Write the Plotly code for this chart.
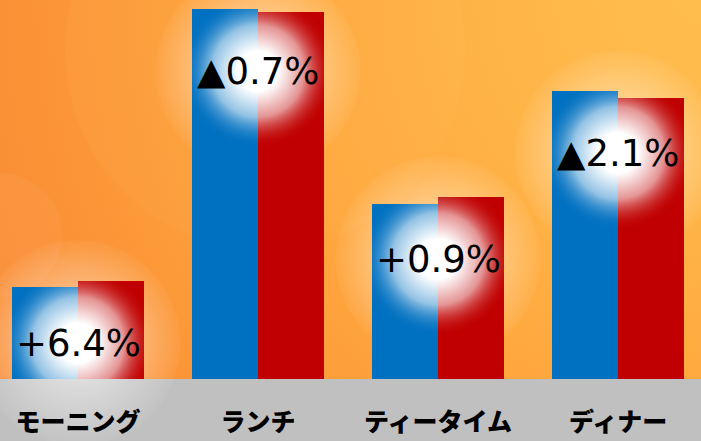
import plotly.graph_objects as go

# ---------------- data ----------------
categories = ["モーニング", "ランチ", "ティータイム", "ディナー"]
blue_values = [92, 370, 175, 288]
red_values = [98, 367, 182, 281]
change_labels = ["+6.4%", "▲0.7%", "+0.9%", "▲2.1%"]

# ---------------- style / layout constants ----------------
W, H = 701, 441
PLOT_H = 379            # plot area height (pixels == y units)
BOTTOM = H - PLOT_H     # grey band
GROUP_PX = 180          # distance between category centres
FIRST_PX = 78           # centre of first category
BAR_PX = 66             # width of one bar
LABEL_DROP = 62         # label centre below the taller bar
GLOW_R = 330            # half side of gradient bounding square
BLUE = "#0070C0"
RED = "#C00000"
BLUE_RGB = (0, 112, 192)
RED_RGB = (192, 0, 0)

fig = go.Figure()

# ---------------- background (base subplot x/y, pixel units) ----------------
bgR = 800
bcx, bcy = W, PLOT_H
bg_x = [0, bcx - bgR, 0, 0, 0, 0, W, bcx + bgR, W, W, W, W, 0]
bg_y = [0, 0, 0, bcy - bgR, 0, PLOT_H, PLOT_H, PLOT_H, PLOT_H, bcy + bgR, PLOT_H, 0, 0]
fig.add_trace(go.Scatter(
    x=bg_x, y=bg_y, mode="lines", fill="toself", line=dict(width=0, simplify=False),
    fillgradient=dict(type="radial", colorscale=[
        [0.0, "#FFBE4D"], [0.3, "#FFB346"], [0.5, "#FFA83E"],
        [0.75, "#FC9939"], [0.9, "#FA8F35"], [1.0, "#F98B32"]]),
    hoverinfo="skip", showlegend=False, xaxis="x", yaxis="y"))

# decorative soft circles
fig.add_trace(go.Scatter(
    x=[265, 0], y=[PLOT_H - 50, PLOT_H - 235], mode="markers",
    marker=dict(size=[400, 124], color=["rgba(255,235,150,0.07)", "rgba(255,225,200,0.09)"],
                line=dict(width=0)),
    hoverinfo="skip", showlegend=False, xaxis="x", yaxis="y"))

# outer halos behind bars
centers_px = [FIRST_PX + GROUP_PX * i for i in range(len(categories))]
label_y = [max(b, r) - LABEL_DROP for b, r in zip(blue_values, red_values)]
fig.add_trace(go.Scatter(
    x=centers_px, y=label_y, mode="markers", cliponaxis=False,
    marker=dict(size=205, color="rgba(255,255,255,0.04)", line=dict(width=0),
                gradient=dict(type="radial", color="rgba(255,255,255,0.7)")),
    hoverinfo="skip", showlegend=False, xaxis="x", yaxis="y"))

# ---------------- bars (x2/y2) ----------------
fig.add_trace(go.Bar(x=categories, y=blue_values, marker=dict(color=BLUE, line=dict(width=0)),
                     xaxis="x2", yaxis="y2", showlegend=False, hoverinfo="skip"))
fig.add_trace(go.Bar(x=categories, y=red_values, marker=dict(color=RED, line=dict(width=0)),
                     xaxis="x2", yaxis="y2", showlegend=False, hoverinfo="skip"))


# ---------------- inner glows clipped to bars (x3/y3, pixel units) ----------------
def glow_poly(x0, x1, top, cx, cy):
    R = GLOW_R
    xs = [x0, cx - R, x0, x0, x0, x0, x0, x0, x1, x1, cx + R, x1, x0]
    ys = [0, 0, 0, cy - R, 0, top, cy + R, top, top, 0, 0, 0, 0]
    return xs, ys


def glow_scale(rgb):
    r, g, b = rgb
    return [[0.0, "rgba(255,255,255,1)"],
            [20 / GLOW_R, "rgba(255,255,255,1)"],
            [46 / GLOW_R, "rgba(255,255,255,0.58)"],
            [77 / GLOW_R, f"rgba({r},{g},{b},0)"],
            [1.0, f"rgba({r},{g},{b},0)"]]


for i, cx in enumerate(centers_px):
    cy = label_y[i]
    for (x0, x1, top, rgb) in [(cx - BAR_PX, cx, blue_values[i], BLUE_RGB),
                               (cx, cx + BAR_PX, red_values[i], RED_RGB)]:
        xs, ys = glow_poly(x0, x1, top, cx, cy)
        fig.add_trace(go.Scatter(
            x=xs, y=ys, mode="lines", fill="toself", line=dict(width=0, simplify=False),
            fillgradient=dict(type="radial", colorscale=glow_scale(rgb)),
            hoverinfo="skip", showlegend=False, xaxis="x3", yaxis="y3"))

# ---------------- value labels ----------------
for cat, b, r, txt in zip(categories, blue_values, red_values, change_labels):
    fig.add_annotation(x=cat, y=max(b, r), xref="x2", yref="y2", text=txt,
                       showarrow=False, yshift=-LABEL_DROP, yanchor="middle",
                       font=dict(family="DejaVu Sans", size=37, color="#000000"))

x2_range = [-FIRST_PX / GROUP_PX, (W - FIRST_PX) / GROUP_PX]
hidden = dict(visible=False, showgrid=False, zeroline=False, fixedrange=True)
fig.update_layout(
    width=W, height=H,
    margin=dict(l=0, r=0, t=0, b=BOTTOM, pad=0),
    paper_bgcolor="#C0C0C0", plot_bgcolor="rgba(0,0,0,0)",
    barmode="group", bargap=1 - 2 * BAR_PX / GROUP_PX, bargroupgap=0,
    showlegend=False,
    xaxis=dict(range=[0, W], **hidden),
    yaxis=dict(range=[0, PLOT_H], **hidden),
    xaxis2=dict(overlaying="x", type="category", range=x2_range, showgrid=False,
                zeroline=False, showline=False, ticks="", fixedrange=True,
                ticklabelstandoff=26,
                tickfont=dict(family="Noto Sans CJK JP", size=25, color="#000000", weight=900)),
    yaxis2=dict(overlaying="y", range=[0, PLOT_H], **hidden),
    xaxis3=dict(overlaying="x", range=[0, W], **hidden),
    yaxis3=dict(overlaying="y", range=[0, PLOT_H], **hidden),
)

fig.write_html("out.html")
